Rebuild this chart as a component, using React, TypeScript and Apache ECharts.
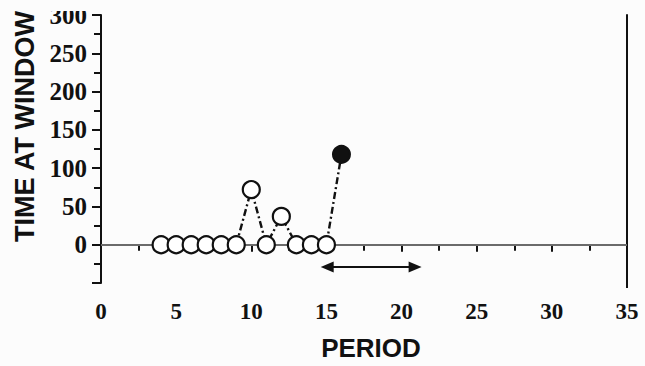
import React, { useEffect, useRef } from "react";
import * as echarts from "echarts";

const periods = [4, 5, 6, 7, 8, 9, 10, 11, 12, 13, 14, 15, 16];
const times = [0, 0, 0, 0, 0, 0, 72, 0, 37, 0, 0, 0, 118];
const filled = [false, false, false, false, false, false, false, false, false, false, false, false, true];
const arrowStart = [15.05, -29];
const arrowEnd = [20.9, -29];
const xTicks = { min: 0, max: 35, interval: 5 };
const yTicks = { min: -50, max: 300, interval: 50 };
const xTitle = "PERIOD";
const yTitle = "TIME AT WINDOW";

const BG = "#fcfcfc";
const INK = "#111111";

export default function App() {
  const ref = useRef<HTMLDivElement>(null);
  useEffect(() => {
    if (!ref.current) return;
    const chart = echarts.init(ref.current, undefined, { renderer: "svg" });
    const data = periods.map((p, i) => ({
      value: [p, times[i]],
      itemStyle: filled[i]
        ? { color: INK, borderColor: INK, borderWidth: 2 }
        : { color: "#ffffff", borderColor: INK, borderWidth: 2.2 },
    }));
    const labelStyle = {
      color: INK,
      fontFamily: "Liberation Serif",
      fontWeight: "bold" as const,
    };
    chart.setOption({
      animation: false,
      backgroundColor: BG,
      grid: { left: 101, right: 18, top: 15, bottom: 83 },
      xAxis: {
        type: "value",
        min: xTicks.min,
        max: xTicks.max,
        interval: xTicks.interval,
        splitLine: { show: false },
        axisLine: { show: true, lineStyle: { color: INK, width: 2 } },
        axisTick: { show: true, length: 7, lineStyle: { color: INK, width: 2 } },
        minorTick: { show: true, splitNumber: 2, length: 6, lineStyle: { color: INK, width: 2 } },
        axisLabel: { ...labelStyle, fontSize: 23, margin: 17 },
      },
      yAxis: [
        {
          type: "value",
          min: yTicks.min,
          max: yTicks.max,
          interval: yTicks.interval,
          splitLine: { show: false },
          axisLine: { show: true, onZero: false, lineStyle: { color: INK, width: 2 } },
          axisTick: { show: true, length: 9, lineStyle: { color: INK, width: 2 } },
          minorTick: { show: true, splitNumber: 2, length: 7, lineStyle: { color: INK, width: 2 } },
          axisLabel: {
            ...labelStyle,
            fontSize: 25,
            margin: 14,
            formatter: (v: number) => (v < 0 ? "" : String(v)),
          },
        },
        {
          type: "value",
          position: "right",
          min: yTicks.min,
          max: yTicks.max,
          interval: yTicks.interval,
          splitLine: { show: false },
          axisLine: { show: true, onZero: false, lineStyle: { color: INK, width: 2 } },
          axisTick: { show: false },
          axisLabel: { show: false },
        },
      ],
      series: [
        {
          type: "line",
          data: [],
          silent: true,
          z: 1,
          markLine: {
            silent: true,
            symbol: "none",
            label: { show: false },
            lineStyle: { color: "#8a8a8a", width: 1.5, type: "solid" },
            data: [{ yAxis: 0 }],
          },
        },
        {
          type: "line",
          data: [],
          silent: true,
          z: 3,
          markLine: {
            silent: true,
            symbol: ["triangle", "triangle"],
            symbolSize: [11, 13],
            label: { show: false },
            lineStyle: { color: INK, width: 2, type: "solid" },
            itemStyle: { color: INK },
            data: [[{ coord: arrowStart }, { coord: arrowEnd }]],
          },
        },
        {
          type: "line",
          data,
          z: 5,
          symbol: "circle",
          symbolSize: 17,
          showAllSymbol: true,
          lineStyle: { color: INK, width: 2.4, type: [7, 3, 2, 3] },
        },
      ],
      graphic: [
        {
          type: "rect",
          z: 100,
          shape: { x: 0, y: 0, width: 645, height: 11 },
          style: { fill: BG },
        },
        {
          type: "text",
          z: 99,
          x: 25,
          y: 242,
          rotation: Math.PI / 2,
          style: {
            text: yTitle,
            fill: INK,
            font: "bold 27px 'Liberation Sans'",
            align: "left",
            verticalAlign: "middle",
          },
        },
        {
          type: "text",
          z: 99,
          x: 371,
          y: 348,
          style: {
            text: xTitle,
            fill: INK,
            font: "bold 26px 'Liberation Sans'",
            align: "center",
            verticalAlign: "middle",
          },
        },
        {
          type: "line",
          z: 99,
          shape: { x1: 627, y1: 283, x2: 627, y2: 288 },
          style: { stroke: INK, lineWidth: 2 },
        },
      ],
    });
    return () => chart.dispose();
  }, []);
  return (
    <div
      ref={ref}
      style={{ position: "fixed", left: 0, top: 0, width: 645, height: 366 }}
    />
  );
}
